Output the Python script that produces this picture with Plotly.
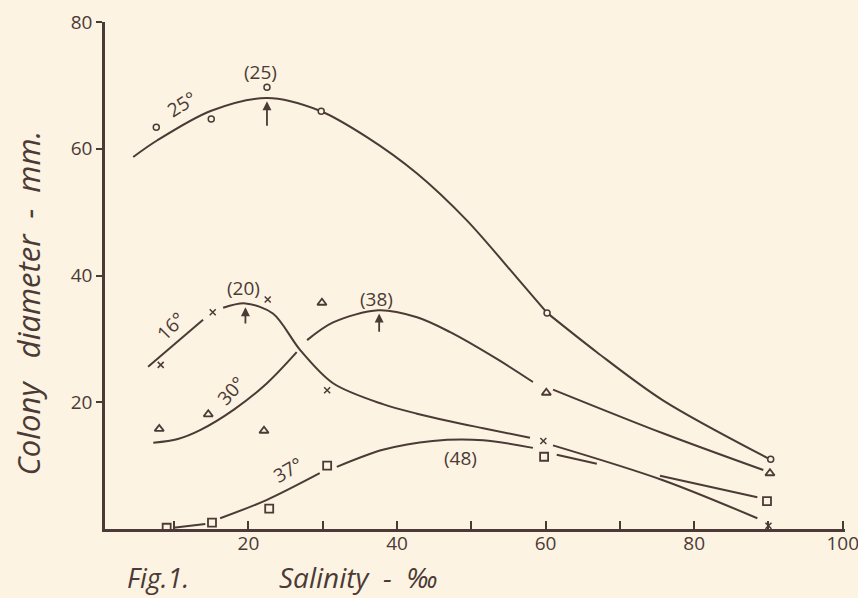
import plotly.graph_objects as go

BG = "#fcf3e3"
INK = "#4b3a35"

# ---- measured points (salinity ‰, colony diameter mm) ----
x25 = [7.6, 15.0, 22.5, 29.8, 60.2, 90.3]
y25 = [63.4, 64.7, 69.7, 65.9, 34.1, 11.0]
x16 = [8.2, 15.2, 22.6, 30.6, 59.7, 90.0]
y16 = [25.9, 34.2, 36.2, 21.9, 13.9, 0.5]
x30 = [8.0, 14.6, 22.1, 29.9, 60.1, 90.2]
y30 = [15.8, 18.1, 15.5, 35.7, 21.5, 8.8]
x37 = [9.0, 15.1, 22.8, 30.6, 59.8, 89.8]
y37 = [0.2, 1.0, 3.2, 10.0, 11.4, 4.4]

# ---- hand-drawn fitted curves (None = pen lifted) ----
c25_x = [4.5, 7.7, 15.0, 22.5, 29.6, 36.0, 42.7, 49.4, 56.1, 60.2, None, 60.2, 66.9, 75.8, 90.2]
c25_y = [58.7, 61.3, 66.0, 68.0, 66.0, 61.8, 56.1, 48.7, 39.7, 34.1, None, 34.1, 27.9, 20.3, 11.0]
c16_x = [6.5, 13.9, None, 16.6, 19.6, 23.3, 27.0, 31.4, 38.1, 42.7, 47.1, 51.6, 57.9, None, 61.0, 75.8, 88.5]
c16_y = [25.6, 33.0, None, 34.9, 35.6, 34.0, 28.2, 23.0, 19.7, 18.2, 17.0, 15.9, 14.4, None, 13.2, 7.7, 1.7]
c30_x = [7.2, 10.5, 13.5, 18.0, 22.5, 26.5, None, 27.9, 31.4, 37.5, 42.7, 47.1, 53.5, 58.3, None, 61.0, 75.8, 89.3]
c30_y = [13.6, 14.2, 15.6, 18.8, 23.0, 27.9, None, 29.8, 32.6, 34.5, 33.4, 31.1, 26.8, 23.2, None, 22.0, 15.1, 9.3]
c37_x = [9.9, 14.2, None, 16.2, 22.5, 29.6, None, 31.9, 38.1, 44.8, 51.6, 58.3, None, 61.5, 66.9, None, 75.4, 88.5]
c37_y = [0.2, 0.8, None, 1.7, 4.6, 8.8, None, 9.8, 12.5, 13.9, 14.0, 12.8, None, 11.7, 10.3, None, 8.4, 5.0]

# ---- optimum arrows: (x, tail y, head y) and labels ----
opt_x = [22.5, 19.6, 37.6]
opt_tail = [63.4, 32.2, 30.9]
opt_head = [67.5, 35.0, 34.0]
opt_text = ["(25)", "(20)", "(38)", "(48)"]
opt_tx = [21.6, 19.3, 37.2, 48.6]
opt_ty = [72.1, 38.0, 36.3, 11.2]

temp_text = ["25°", "16°", "30°", "37°"]
temp_x = [11.1, 9.6, 17.6, 25.3]
temp_y = [67.0, 32.0, 21.8, 9.3]
temp_angle = [-32, -45, -48, -30]

xtick_vals = [10, 20, 30, 40, 50, 60, 70, 80, 90, 100]
xtick_text = ["", "20", "", "40", "", "60", "", "80", "", "100"]
ytick_vals = [20, 40, 60, 80]

fig = go.Figure()

for cx, cy in [(c25_x, c25_y), (c16_x, c16_y), (c30_x, c30_y), (c37_x, c37_y)]:
    fig.add_trace(go.Scatter(x=cx, y=cy, mode="lines", line=dict(color=INK, width=2, shape="spline", smoothing=0.9),
                             connectgaps=False, hoverinfo="skip", showlegend=False))

fig.add_trace(go.Scatter(x=x25, y=y25, mode="markers", showlegend=False,
                         marker=dict(symbol="circle", size=6, color=BG, line=dict(color=INK, width=1.5))))
fig.add_trace(go.Scatter(x=x16, y=y16, mode="markers", showlegend=False,
                         marker=dict(symbol="x-thin", size=6, color=INK, line=dict(color=INK, width=1.5))))
fig.add_trace(go.Scatter(x=x30, y=y30, mode="markers", showlegend=False,
                         marker=dict(symbol="triangle-up", size=8, color=BG, line=dict(color=INK, width=1.8))))
fig.add_trace(go.Scatter(x=x37, y=y37, mode="markers", showlegend=False,
                         marker=dict(symbol="square", size=8, color=BG, line=dict(color=INK, width=1.8))))

for ax_, t, h in zip(opt_x, opt_tail, opt_head):
    fig.add_annotation(x=ax_, y=h, ax=ax_, ay=t, xref="x", yref="y", axref="x", ayref="y",
                       text="", showarrow=True, arrowhead=2, arrowsize=1, arrowwidth=1.8, arrowcolor=INK)

for t, tx, ty in zip(opt_text, opt_tx, opt_ty):
    fig.add_annotation(x=tx, y=ty, text=t, showarrow=False,
                       font=dict(family="Open Sans", size=19, color=INK))

for t, tx, ty, ang in zip(temp_text, temp_x, temp_y, temp_angle):
    fig.add_annotation(x=tx, y=ty, text=t, showarrow=False, textangle=ang,
                       font=dict(family="Open Sans", size=19, color=INK))

fig.add_annotation(xref="paper", yref="paper", x=-0.104, y=0.445, xanchor="center", yanchor="middle",
                   text="Colony   diameter  -  mm.", textangle=-90, showarrow=False,
                   font=dict(family="Open Sans", size=31, color=INK, style="italic"))
fig.add_annotation(xref="paper", yref="paper", x=0.072, y=-0.095, xanchor="center", yanchor="middle",
                   text="Fig.1.", showarrow=False,
                   font=dict(family="Open Sans", size=27, color=INK, style="italic"))
fig.add_annotation(xref="paper", yref="paper", x=0.343, y=-0.095, xanchor="center", yanchor="middle",
                   text="Salinity  -  ‰", showarrow=False,
                   font=dict(family="Open Sans", size=28, color=INK, style="italic"))

fig.update_xaxes(range=[0.7, 100.3], showgrid=False, zeroline=False, showline=True, automargin=False,
                 linecolor=INK, linewidth=2.5, ticks="inside", ticklen=8, tickwidth=2, tickcolor=INK,
                 tickvals=xtick_vals, ticktext=xtick_text, ticklabeloverflow="allow",
                 ticklabelstandoff=-5,
                 tickfont=dict(family="Open Sans", size=19, color=INK))
fig.update_yaxes(range=[0, 80], showgrid=False, zeroline=False, showline=True, automargin=False,
                 linecolor=INK, linewidth=2.5, ticks="outside", ticklen=6, tickwidth=2, tickcolor=INK,
                 tickvals=ytick_vals, tickfont=dict(family="Open Sans", size=19, color=INK))

fig.update_layout(width=858, height=598, paper_bgcolor=BG, plot_bgcolor=BG,
                  margin=dict(l=105, r=13, t=22, b=69), showlegend=False)

fig.write_html("out.html")
